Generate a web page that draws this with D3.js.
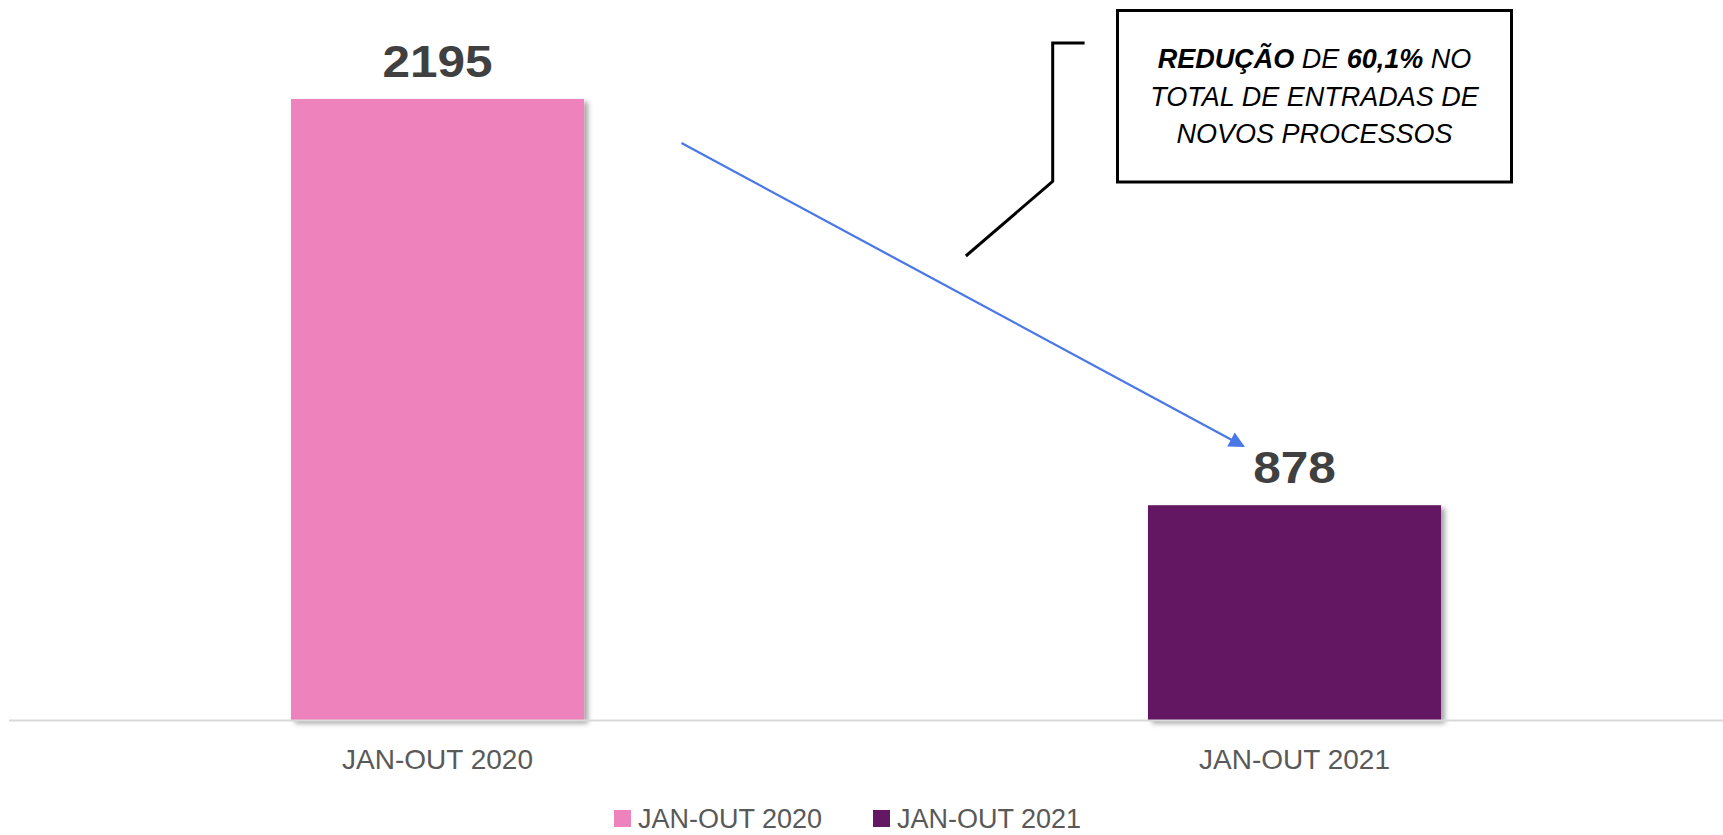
<!DOCTYPE html>
<html>
<head>
<meta charset="utf-8">
<script src="https://cdn.jsdelivr.net/npm/d3@7/dist/d3.min.js"></script>
<style>
  html, body { margin: 0; padding: 0; background: #fff; }
  svg { display: block; }
</style>
</head>
<body>
<svg id="chart" width="1723" height="835"></svg>
<script>
// ---- data ----
const categories = ["JAN-OUT 2020", "JAN-OUT 2021"];
const values = [2195, 878];
const barColors = ["#EE82BD", "#641762"];
const legendLabels = ["JAN-OUT 2020", "JAN-OUT 2021"];
const calloutLines = [
  [{t: "REDUÇÃO", b: true}, {t: " DE ", b: false}, {t: "60,1%", b: true}, {t: " NO", b: false}],
  [{t: "TOTAL DE ENTRADAS DE", b: false}],
  [{t: "NOVOS PROCESSOS", b: false}]
];

const W = 1723, H = 835;
const svg = d3.select("#chart");

const defs = svg.append("defs");
const f = defs.append("filter").attr("id", "shadow")
  .attr("x", "-10%").attr("y", "-10%").attr("width", "130%").attr("height", "130%");
f.append("feDropShadow").attr("dx", 4).attr("dy", 3).attr("stdDeviation", 2.5)
  .attr("flood-color", "#000").attr("flood-opacity", 0.35);

const mk = defs.append("marker").attr("id", "arrow")
  .attr("viewBox", "0 0 10 10").attr("refX", 9).attr("refY", 5)
  .attr("markerWidth", 8).attr("markerHeight", 7).attr("markerUnits", "strokeWidth")
  .attr("orient", "auto");
mk.append("path").attr("d", "M0,0 L10,5 L0,10 Z").attr("fill", "#4A78E6");

// ---- scales ----
const x = d3.scaleBand().domain(categories).range([9, W])
  .paddingInner(0.658).paddingOuter(0.329);
const y = d3.scaleLinear().domain([180, 2195]).range([720.5, 99]);

// ---- bars ----
svg.append("g").selectAll("rect").data(values).join("rect")
  .attr("x", (d, i) => x(categories[i]))
  .attr("y", d => y(d))
  .attr("width", x.bandwidth())
  .attr("height", d => y.range()[0] - y(d))
  .attr("fill", (d, i) => barColors[i])
  .attr("filter", "url(#shadow)");

// ---- axis line ----
svg.append("line")
  .attr("x1", 9).attr("x2", W).attr("y1", 720.5).attr("y2", 720.5)
  .attr("stroke", "#D9D9D9").attr("stroke-width", 2);

// ---- x axis labels ----
const xAxis = d3.axisBottom(x).tickSize(0).tickPadding(0);
const gx = svg.append("g").attr("transform", "translate(0,720.5)").call(xAxis);
gx.select(".domain").remove();
gx.selectAll("text")
  .attr("dy", null).attr("y", 48.5)
  .attr("font-family", "'Liberation Sans', Arial, sans-serif")
  .attr("font-size", 28).attr("fill", "#595959");

// ---- value labels ----
svg.append("g").selectAll("text").data(values).join("text")
  .attr("transform", (d, i) => {
    const cx = x(categories[i]) + x.bandwidth() / 2;
    return `translate(${cx},${y(d) - 22}) scale(1.1,1)`;
  })
  .attr("text-anchor", "middle")
  .attr("font-family", "'Liberation Sans', Arial, sans-serif")
  .attr("font-weight", "bold")
  .attr("font-size", 45)
  .attr("fill", "#404040")
  .text(d => d);

// ---- arrow ----
const cx0 = x(categories[0]) + x.bandwidth() / 2;
const cx1 = x(categories[1]) + x.bandwidth() / 2;
svg.append("line")
  .attr("x1", cx0 + 244).attr("y1", y(values[0]) + 44)
  .attr("x2", cx1 - 51).attr("y2", y(values[1]) - 59)
  .attr("stroke", "#4A78E6").attr("stroke-width", 2.25)
  .attr("marker-end", "url(#arrow)");

// ---- callout ----
svg.append("path")
  .attr("d", "M1084.6,42.9 L1052.7,42.9 L1052.7,181.3 L965.9,256")
  .attr("fill", "none").attr("stroke", "#000").attr("stroke-width", 3);

svg.append("rect")
  .attr("x", 1117.5).attr("y", 10.5).attr("width", 394).attr("height", 171.5)
  .attr("fill", "#fff").attr("stroke", "#000").attr("stroke-width", 3);

const ct = svg.append("text")
  .attr("text-anchor", "middle")
  .attr("font-family", "'Liberation Sans', Arial, sans-serif")
  .attr("font-style", "italic")
  .attr("font-size", 27)
  .attr("fill", "#000");
calloutLines.forEach((line, li) => {
  const tl = ct.append("tspan").attr("x", 1314.5).attr("y", 68 + li * 37.5);
  line.forEach(seg => {
    tl.append("tspan").attr("font-weight", seg.b ? "bold" : "normal").text(seg.t);
  });
});

// ---- legend ----
const legX = [614, 873];
const lg = svg.append("g");
legendLabels.forEach((lab, i) => {
  lg.append("rect").attr("x", legX[i]).attr("y", 810).attr("width", 17).attr("height", 17)
    .attr("fill", barColors[i]);
  lg.append("text").attr("x", legX[i] + 24).attr("y", 828)
    .attr("font-family", "'Liberation Sans', Arial, sans-serif")
    .attr("font-size", 27).attr("fill", "#595959").text(lab);
});
</script>
</body>
</html>
